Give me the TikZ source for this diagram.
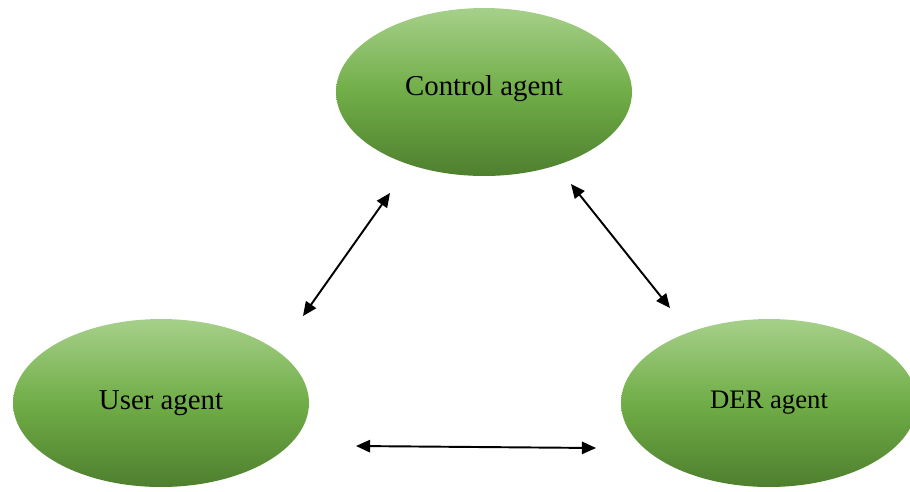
\documentclass[tikz,border=0pt]{standalone}
\usepackage{fontspec}
\setmainfont{Liberation Serif}
\usetikzlibrary{shapes.geometric,arrows.meta}
\definecolor{greentop}{HTML}{A6D08A}
\definecolor{greenmid}{HTML}{70AD47}
\definecolor{greenbot}{HTML}{4E7F2E}
\tikzset{
  agent/.style={ellipse, inner sep=0pt, minimum width=5.92cm, minimum height=3.36cm,
    top color=greentop, bottom color=greenbot, middle color=greenmid,
    font=\fontsize{16.4}{18}\selectfont, text=black},
  link/.style={line width=1.1pt, {Triangle[length=8pt,width=7pt]}-{Triangle[length=8pt,width=7pt]}}
}
\begin{document}
\begin{tikzpicture}[x=0.02cm, y=-0.02cm]
  \useasboundingbox (0,0) rectangle (910,491);
  % the three agents
  \node[agent] (ctl) at (484,92) {\raisebox{0.25cm}{Control agent}};
  \node[agent] (usr) at (161,403) {\raisebox{0.1cm}{User agent}};
  \node[agent, font=\fontsize{15.2}{18}\selectfont] (der) at (769,403) {DER agent};
  % free ends of the links
  \coordinate (ctlA) at (390,193);
  \coordinate (usrA) at (303,316);
  \coordinate (ctlB) at (571,184);
  \coordinate (derB) at (670,308);
  \coordinate (usrC) at (356,446);
  \coordinate (derC) at (596,448);
  % two-way links between agents
  \draw[link] (usrA) -- (ctlA);
  \draw[link] (ctlB) -- (derB);
  \draw[link] (usrC) -- (derC);
\end{tikzpicture}
\end{document}
